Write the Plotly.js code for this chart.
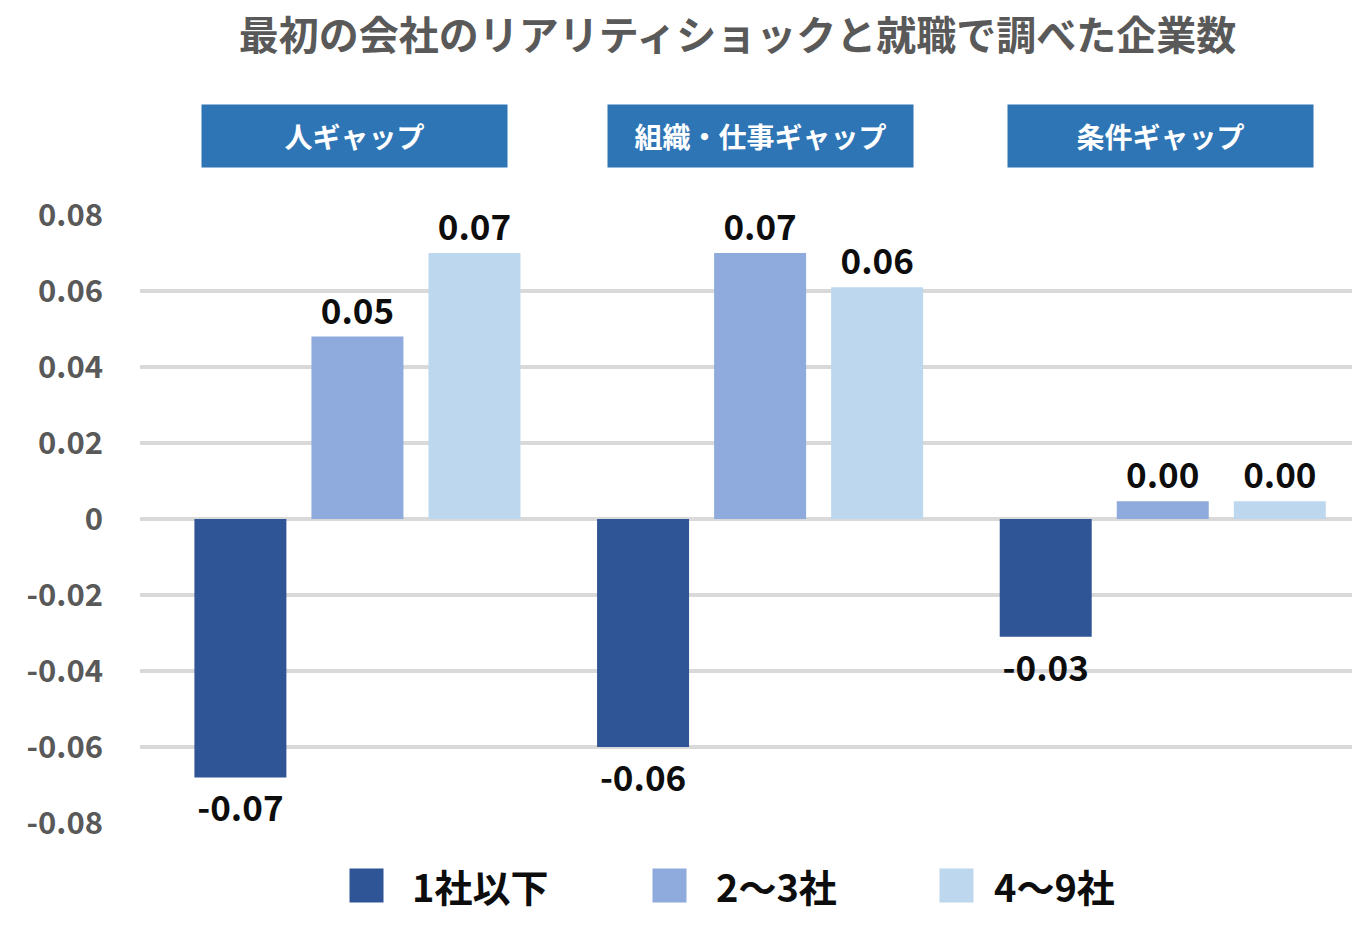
<!DOCTYPE html>
<html><head><meta charset="utf-8">
<script src="https://cdn.plot.ly/plotly-3.0.1.min.js"></script>
<style>body{margin:0;background:#fff}#chart{width:1356px;height:936px}</style>
</head><body><div id="chart"></div>
<script>
const categories = ['人ギャップ', '組織・仕事ギャップ', '条件ギャップ'];
const seriesNames = ['1社以下', '2～3社', '4～9社'];
const series1 = [-0.068, -0.060, -0.031];
const series2 = [0.048, 0.070, 0.0047];
const series3 = [0.070, 0.061, 0.0047];
const seriesValues = [series1, series2, series3];
const colors = ['#2F5597', '#8FAADC', '#BDD7EE'];
const tickVals = [-0.08, -0.06, -0.04, -0.02, 0, 0.02, 0.04, 0.06, 0.08];
const tickText = ['-0.08', '-0.06', '-0.04', '-0.02', '0', '0.02', '0.04', '0.06', '0.08'];
const titleText = '最初の会社のリアリティショックと就職で調べた企業数';

const FONT = '"Noto Sans CJK JP", "Noto Sans", sans-serif';

const traces = seriesValues.map((vals, i) => ({
  type: 'bar',
  name: seriesNames[i],
  x: categories,
  y: vals,
  marker: {color: colors[i]},
  texttemplate: '%{y:.2f}',
  textposition: 'outside',
  cliponaxis: false,
  textfont: {family: FONT, size: 35, color: '#0D0D0D', weight: 700},
  showlegend: false,
  hoverinfo: 'skip'
}));

const headerShift = [-3, 0, -2];
const annotations = [];
categories.forEach((c, i) => {
  annotations.push({
    x: c, xref: 'x', y: (823 - 136) / 608, yref: 'paper',
    xshift: headerShift[i],
    text: '<b>' + c + '</b>', showarrow: false,
    bgcolor: '#2E75B6', width: 305, height: 62, borderpad: 0,
    font: {family: FONT, size: 28, color: '#FFFFFF'},
    yanchor: 'middle'
  });
});
// legend drawn manually with colored boxes + text
const legX = [366, 669, 956];
const legTextX = [412, 716, 994];
seriesNames.forEach((n, i) => {
  annotations.push({
    xref: 'paper', yref: 'paper', x: 0, y: 0, text: ' ', showarrow: false,
    bgcolor: colors[i], width: 33, height: 33, borderpad: 0,
    xanchor: 'center', yanchor: 'middle',
    xshift: legX[i] - 140, yshift: 823 - 885
  });
  annotations.push({
    xref: 'paper', yref: 'paper', x: 0, y: 0, text: '<b>' + n + '</b>', showarrow: false,
    font: {family: FONT, size: 38, color: '#0D0D0D'},
    xanchor: 'left', yanchor: 'middle',
    xshift: legTextX[i] - 140 - 2, yshift: 823 - 885
  });
});

const layout = {
  width: 1356, height: 936,
  margin: {l: 140, r: 4, t: 215, b: 113},
  paper_bgcolor: '#FFFFFF', plot_bgcolor: '#FFFFFF',
  title: {
    text: '<b>' + titleText + '</b>',
    font: {family: FONT, size: 40, color: '#595959'},
    x: 0.493, xref: 'paper', xanchor: 'center',
    y: 0.962, yref: 'container', yanchor: 'middle'
  },
  barmode: 'group',
  bargap: 0.128,
  bargroupgap: 0.214,
  xaxis: {
    type: 'category',
    range: [-0.54, 2.47],
    showticklabels: false, showgrid: false, zeroline: false, showline: false, ticks: ''
  },
  yaxis: {
    range: [-0.08, 0.08],
    tickvals: tickVals, ticktext: tickText,
    tickfont: {family: FONT, size: 31, color: '#595959', weight: 700},
    showgrid: true, gridcolor: '#D9D9D9', gridwidth: 4,
    zeroline: true, zerolinecolor: '#D9D9D9', zerolinewidth: 4,
    showline: false, ticks: '', ticklabelstandoff: 36
  },
  annotations: annotations,
  showlegend: false
};

Plotly.newPlot('chart', traces, layout, {displayModeBar: false, staticPlot: true});
</script></body></html>
